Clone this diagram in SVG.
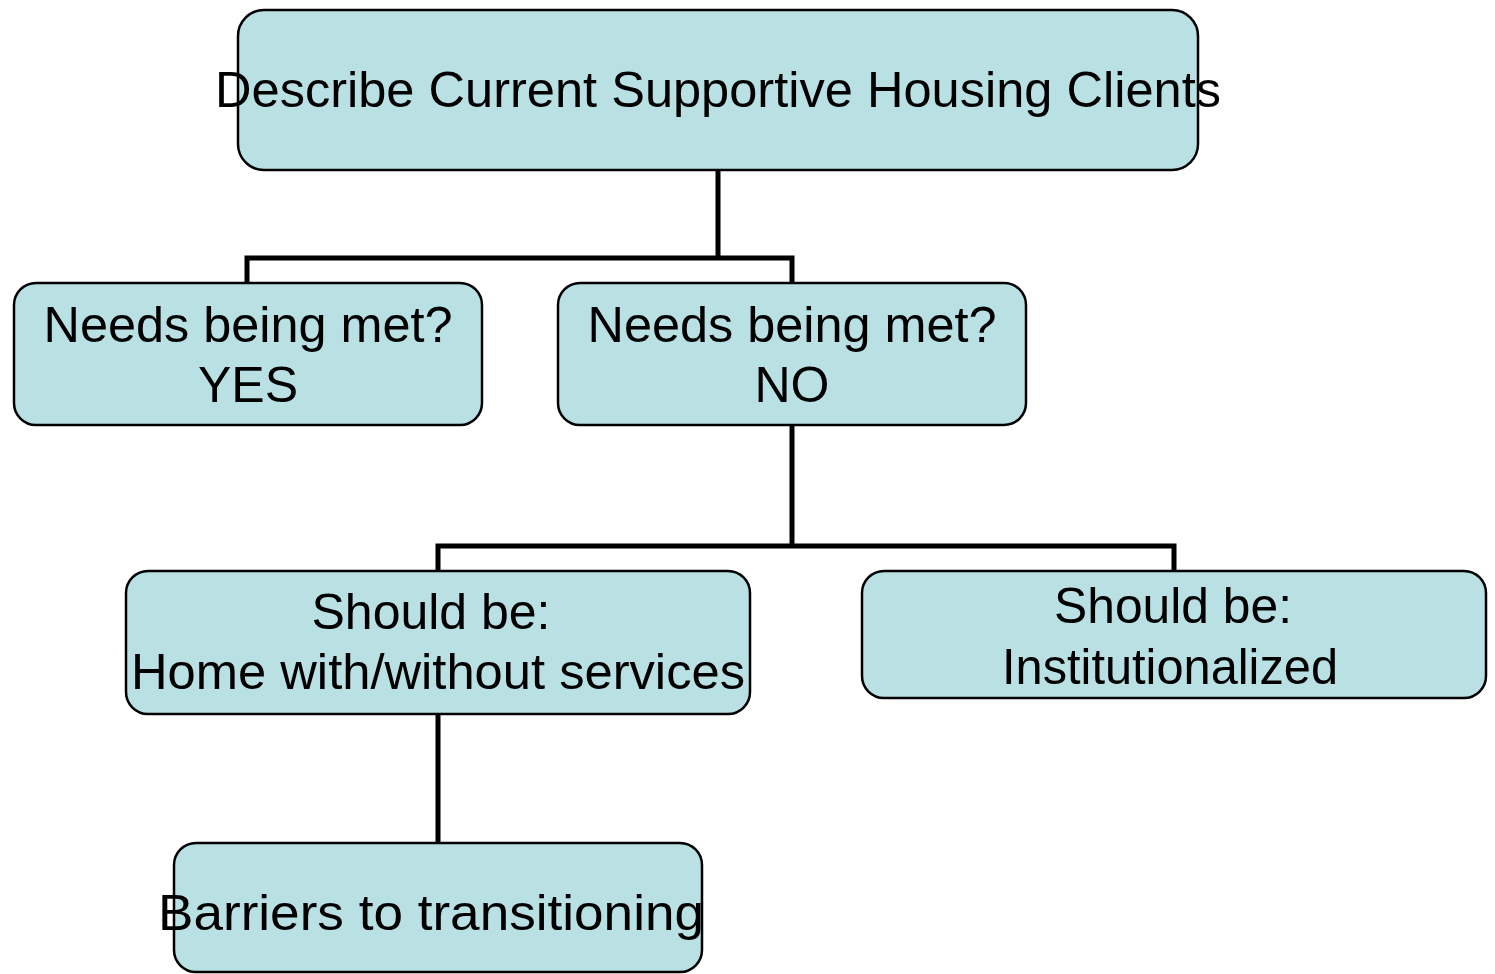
<svg xmlns="http://www.w3.org/2000/svg" width="1495" height="974" viewBox="0 0 1495 974">
<style>
.box{fill:#b9e0e3;stroke:#000;stroke-width:2.5}
.lbl{font-family:"Liberation Sans",Arial,sans-serif;font-size:50px;fill:#000;text-anchor:middle}
.conn{fill:none;stroke:#000;stroke-width:5;stroke-linejoin:miter}
</style>
<rect width="1495" height="974" fill="#fff"/>
<g id="connectors">
<path class="conn" d="M718 170V258M247 283V258H792V283"/>
<path class="conn" d="M792 425V546M438 571V546H1174V571"/>
<path class="conn" d="M438 714V843"/>
</g>
<g id="node-top">
<rect class="box" x="238" y="10" width="960" height="160" rx="26"/>
<text class="lbl" x="718" y="107" textLength="1006" lengthAdjust="spacingAndGlyphs">Describe Current Supportive Housing Clients</text>
</g>
<g id="node-yes">
<rect class="box" x="14" y="283" width="468" height="142" rx="22"/>
<text class="lbl" x="248" y="342" textLength="409" lengthAdjust="spacingAndGlyphs">Needs being met?</text>
<text class="lbl" x="248" y="402">YES</text>
</g>
<g id="node-no">
<rect class="box" x="558" y="283" width="468" height="142" rx="22"/>
<text class="lbl" x="792" y="342" textLength="409" lengthAdjust="spacingAndGlyphs">Needs being met?</text>
<text class="lbl" x="792" y="402">NO</text>
</g>
<g id="node-home">
<rect class="box" x="126" y="571" width="624" height="143" rx="22"/>
<text class="lbl" x="431" y="629" textLength="239" lengthAdjust="spacingAndGlyphs">Should be:</text>
<text class="lbl" x="438" y="689" textLength="614" lengthAdjust="spacingAndGlyphs">Home with/without services</text>
</g>
<g id="node-inst">
<rect class="box" x="862" y="571" width="624" height="127" rx="22"/>
<text class="lbl" x="1173" y="623" textLength="238" lengthAdjust="spacingAndGlyphs">Should be:</text>
<text class="lbl" x="1170" y="684" textLength="336" lengthAdjust="spacingAndGlyphs">Institutionalized</text>
</g>
<g id="node-barriers">
<rect class="box" x="174" y="843" width="528" height="129" rx="22"/>
<text class="lbl" x="431" y="930" font-size="53" textLength="546" lengthAdjust="spacingAndGlyphs">Barriers to transitioning</text>
</g>
</svg>
